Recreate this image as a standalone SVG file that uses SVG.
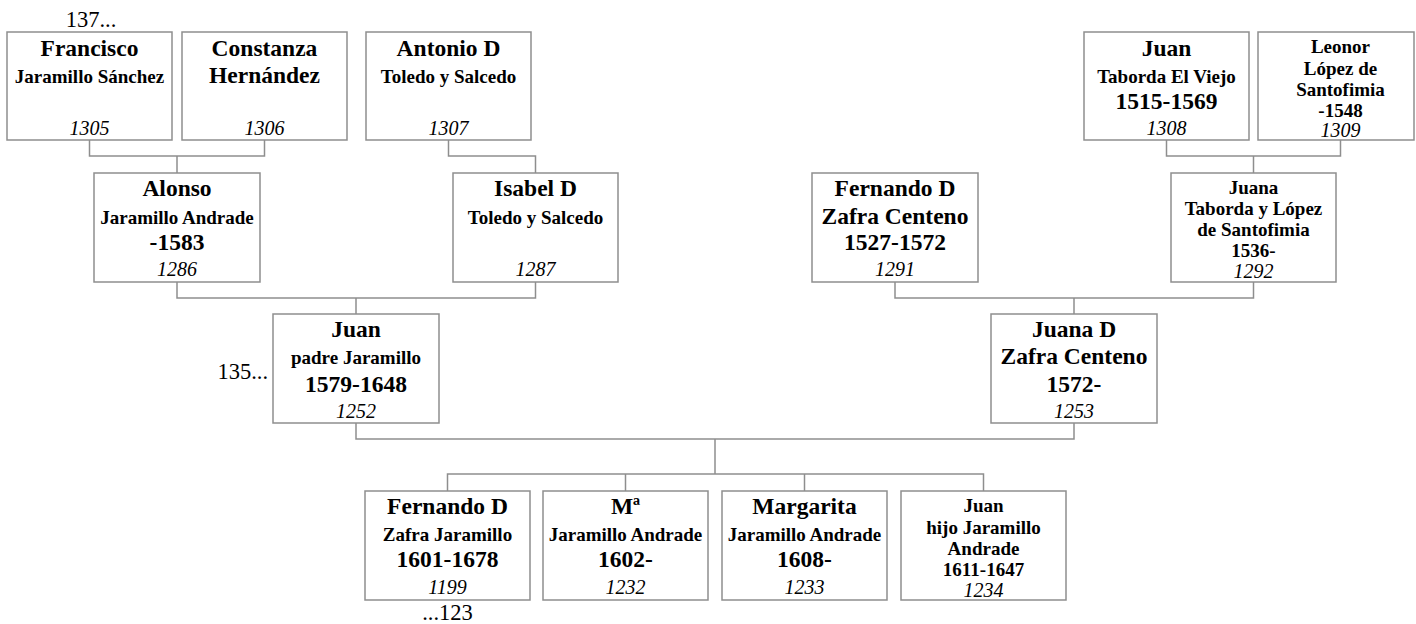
<svg xmlns="http://www.w3.org/2000/svg" width="1416" height="624" viewBox="0 0 1416 624">
<style>
.box{fill:#fff;stroke:#8e8e8e;stroke-width:1.5}
.conn{fill:none;stroke:#8e8e8e;stroke-width:1.5}
text{font-family:"Liberation Serif","Times New Roman",serif;fill:#000;text-anchor:middle}
.n{font-size:23.5px;font-weight:bold}
.s{font-size:19px;font-weight:bold}
.id{font-size:20px;font-style:italic}
.r{font-size:22.5px}
</style>
<rect width="1416" height="624" fill="#fff"/>
<g id="connectors">
<path class="conn" d="M89.5,140 V156 H264.5 V140 M177,156 V173"/>
<path class="conn" d="M448.5,140 V156 H535.5 V173"/>
<path class="conn" d="M1166.5,140 V156 H1340.5 V140 M1253.5,156 V173"/>
<path class="conn" d="M177,282 V298 H535.5 V282 M356,298 V314"/>
<path class="conn" d="M895,282 V298 H1253.5 V282 M1074,298 V314"/>
<path class="conn" d="M356,423 V439 H1074 V423 M715,439 V474"/>
<path class="conn" d="M447.5,491 V474 H983.5 V491 M625.5,474 V491 M804.5,474 V491"/>
</g>
<g id="n1305">
<rect class="box" x="7" y="32" width="165" height="108"/>
<text class="n" x="89.5" y="55.5">Francisco</text>
<text class="s" x="89.5" y="82.5">Jaramillo Sánchez</text>
<text class="id" x="89.5" y="135">1305</text>
<text class="r" x="91" y="26.5">137...</text>
</g>
<g id="n1306">
<rect class="box" x="182" y="32" width="165" height="108"/>
<text class="n" x="264.5" y="55.5">Constanza</text>
<text class="n" x="264.5" y="82.5">Hernández</text>
<text class="id" x="264.5" y="135">1306</text>
</g>
<g id="n1307">
<rect class="box" x="366" y="32" width="165" height="108"/>
<text class="n" x="448.5" y="55.5">Antonio D</text>
<text class="s" x="448.5" y="82.5">Toledo y Salcedo</text>
<text class="id" x="448.5" y="135">1307</text>
</g>
<g id="n1308">
<rect class="box" x="1084" y="32" width="165" height="108"/>
<text class="n" x="1166.5" y="55.5">Juan</text>
<text class="s" x="1166.5" y="82.5">Taborda El Viejo</text>
<text class="n" x="1166.5" y="109">1515-1569</text>
<text class="id" x="1166.5" y="135">1308</text>
</g>
<g id="n1309">
<rect class="box" x="1258" y="32" width="156" height="108"/>
<text class="s" x="1340.5" y="53">Leonor</text>
<text class="s" x="1340.5" y="74.5">López de</text>
<text class="s" x="1340.5" y="95.5">Santofimia</text>
<text class="s" x="1340.5" y="116.5">-1548</text>
<text class="id" x="1340.5" y="137">1309</text>
</g>
<g id="n1286">
<rect class="box" x="94" y="173" width="166" height="109"/>
<text class="n" x="177" y="196">Alonso</text>
<text class="s" x="177" y="223.5">Jaramillo Andrade</text>
<text class="n" x="177" y="249.5">-1583</text>
<text class="id" x="177" y="275.5">1286</text>
</g>
<g id="n1287">
<rect class="box" x="453" y="173" width="165" height="109"/>
<text class="n" x="535.5" y="196">Isabel D</text>
<text class="s" x="535.5" y="223.5">Toledo y Salcedo</text>
<text class="id" x="535.5" y="275.5">1287</text>
</g>
<g id="n1291">
<rect class="box" x="812" y="173" width="166" height="109"/>
<text class="n" x="895" y="196">Fernando D</text>
<text class="n" x="895" y="223.5">Zafra Centeno</text>
<text class="n" x="895" y="249.5">1527-1572</text>
<text class="id" x="895" y="275.5">1291</text>
</g>
<g id="n1292">
<rect class="box" x="1171" y="173" width="165" height="109"/>
<text class="s" x="1253.5" y="194">Juana</text>
<text class="s" x="1253.5" y="215">Taborda y López</text>
<text class="s" x="1253.5" y="236">de Santofimia</text>
<text class="s" x="1253.5" y="257">1536-</text>
<text class="id" x="1253.5" y="278">1292</text>
</g>
<g id="n1252">
<rect class="box" x="273" y="314" width="166" height="109"/>
<text class="n" x="356" y="337">Juan</text>
<text class="s" x="356" y="364">padre Jaramillo</text>
<text class="n" x="356" y="391.5">1579-1648</text>
<text class="id" x="356" y="418">1252</text>
<text class="r" x="268" y="378.5" style="text-anchor:end">135...</text>
</g>
<g id="n1253">
<rect class="box" x="991" y="314" width="166" height="109"/>
<text class="n" x="1074" y="337">Juana D</text>
<text class="n" x="1074" y="364">Zafra Centeno</text>
<text class="n" x="1074" y="391.5">1572-</text>
<text class="id" x="1074" y="418">1253</text>
</g>
<g id="n1199">
<rect class="box" x="365" y="491" width="165" height="109"/>
<text class="n" x="447.5" y="513.5">Fernando D</text>
<text class="s" x="447.5" y="540.5">Zafra Jaramillo</text>
<text class="n" x="447.5" y="567">1601-1678</text>
<text class="id" x="447.5" y="593.5">1199</text>
<text class="r" x="447.5" y="620">...123</text>
</g>
<g id="n1232">
<rect class="box" x="543" y="491" width="165" height="109"/>
<text class="n" x="625.5" y="513.5">Mª</text>
<text class="s" x="625.5" y="540.5">Jaramillo Andrade</text>
<text class="n" x="625.5" y="567">1602-</text>
<text class="id" x="625.5" y="593.5">1232</text>
</g>
<g id="n1233">
<rect class="box" x="722" y="491" width="165" height="109"/>
<text class="n" x="804.5" y="513.5">Margarita</text>
<text class="s" x="804.5" y="540.5">Jaramillo Andrade</text>
<text class="n" x="804.5" y="567">1608-</text>
<text class="id" x="804.5" y="593.5">1233</text>
</g>
<g id="n1234">
<rect class="box" x="901" y="491" width="165" height="109"/>
<text class="s" x="983.5" y="512">Juan</text>
<text class="s" x="983.5" y="533.5">hijo Jaramillo</text>
<text class="s" x="983.5" y="554.5">Andrade</text>
<text class="s" x="983.5" y="575.5">1611-1647</text>
<text class="id" x="983.5" y="596.5">1234</text>
</g>
</svg>
